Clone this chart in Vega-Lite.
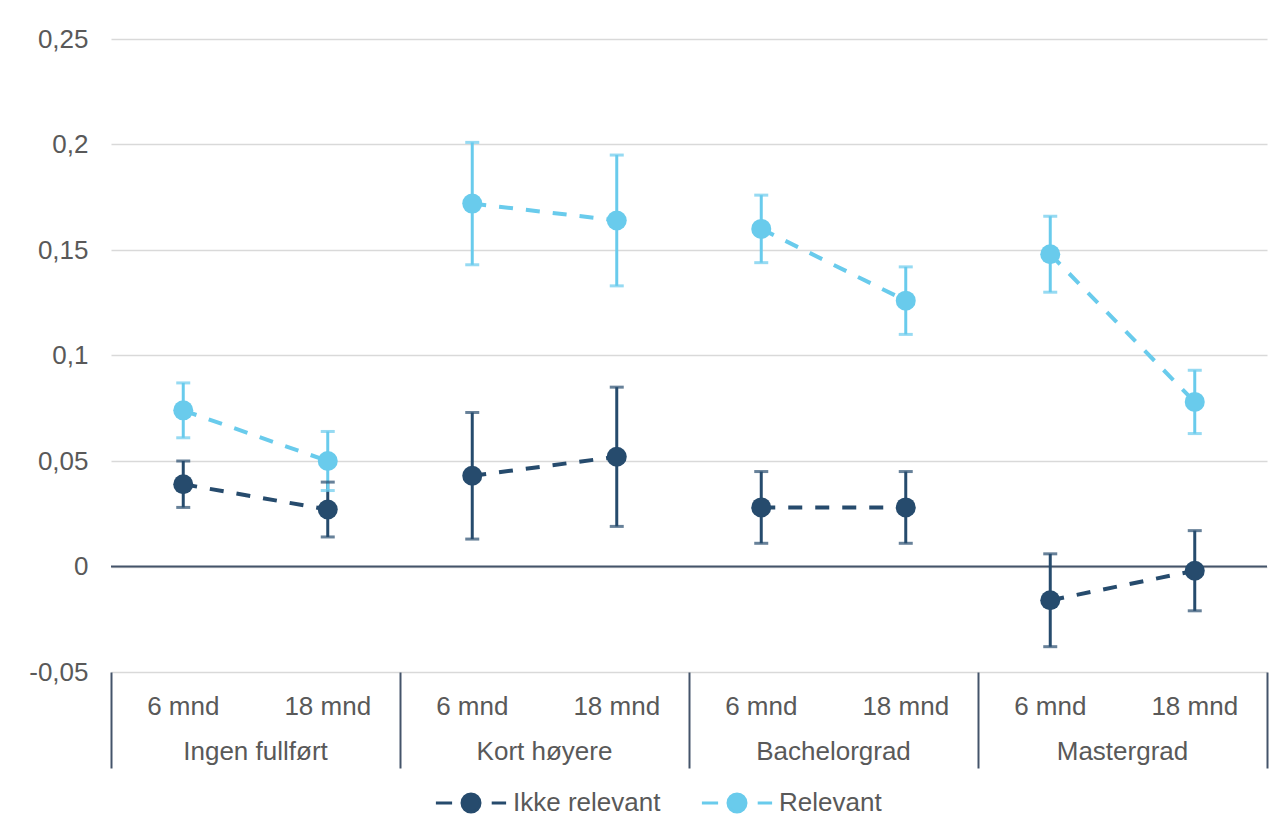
{
  "$schema": "https://vega.github.io/schema/vega-lite/v6.json",
  "width": 1156,
  "height": 633,
  "autosize": {"type": "none"},
  "padding": {"left": 111, "top": 39, "right": 19, "bottom": 164},
  "background": "white",
  "config": {
    "font": "Liberation Sans",
    "view": {"stroke": null},
    "axis": {"labelFont": "Liberation Sans", "labelFontSize": 26, "labelColor": "#595959"},
    "legend": {"labelFont": "Liberation Sans"}
  },
  "datasets": {
    "d": [
      {"series": "Ikke relevant", "group": "Ingen fullført", "time": "6 mnd", "key": "Ingen fullført|6 mnd", "value": 0.039, "lo": 0.028, "hi": 0.050},
      {"series": "Ikke relevant", "group": "Ingen fullført", "time": "18 mnd", "key": "Ingen fullført|18 mnd", "value": 0.027, "lo": 0.014, "hi": 0.040},
      {"series": "Ikke relevant", "group": "Kort høyere", "time": "6 mnd", "key": "Kort høyere|6 mnd", "value": 0.043, "lo": 0.013, "hi": 0.073},
      {"series": "Ikke relevant", "group": "Kort høyere", "time": "18 mnd", "key": "Kort høyere|18 mnd", "value": 0.052, "lo": 0.019, "hi": 0.085},
      {"series": "Ikke relevant", "group": "Bachelorgrad", "time": "6 mnd", "key": "Bachelorgrad|6 mnd", "value": 0.028, "lo": 0.011, "hi": 0.045},
      {"series": "Ikke relevant", "group": "Bachelorgrad", "time": "18 mnd", "key": "Bachelorgrad|18 mnd", "value": 0.028, "lo": 0.011, "hi": 0.045},
      {"series": "Ikke relevant", "group": "Mastergrad", "time": "6 mnd", "key": "Mastergrad|6 mnd", "value": -0.016, "lo": -0.038, "hi": 0.006},
      {"series": "Ikke relevant", "group": "Mastergrad", "time": "18 mnd", "key": "Mastergrad|18 mnd", "value": -0.002, "lo": -0.021, "hi": 0.017},
      {"series": "Relevant", "group": "Ingen fullført", "time": "6 mnd", "key": "Ingen fullført|6 mnd", "value": 0.074, "lo": 0.061, "hi": 0.087},
      {"series": "Relevant", "group": "Ingen fullført", "time": "18 mnd", "key": "Ingen fullført|18 mnd", "value": 0.050, "lo": 0.036, "hi": 0.064},
      {"series": "Relevant", "group": "Kort høyere", "time": "6 mnd", "key": "Kort høyere|6 mnd", "value": 0.172, "lo": 0.143, "hi": 0.201},
      {"series": "Relevant", "group": "Kort høyere", "time": "18 mnd", "key": "Kort høyere|18 mnd", "value": 0.164, "lo": 0.133, "hi": 0.195},
      {"series": "Relevant", "group": "Bachelorgrad", "time": "6 mnd", "key": "Bachelorgrad|6 mnd", "value": 0.160, "lo": 0.144, "hi": 0.176},
      {"series": "Relevant", "group": "Bachelorgrad", "time": "18 mnd", "key": "Bachelorgrad|18 mnd", "value": 0.126, "lo": 0.110, "hi": 0.142},
      {"series": "Relevant", "group": "Mastergrad", "time": "6 mnd", "key": "Mastergrad|6 mnd", "value": 0.148, "lo": 0.130, "hi": 0.166},
      {"series": "Relevant", "group": "Mastergrad", "time": "18 mnd", "key": "Mastergrad|18 mnd", "value": 0.078, "lo": 0.063, "hi": 0.093}
    ]
  },
  "data": {"name": "d"},
  "layer": [
    {
      "data": {"values": [{"v": 0}]},
      "mark": {"type": "rule", "color": "#44546a", "strokeWidth": 2},
      "encoding": {
        "y": {
          "field": "v", "type": "quantitative",
          "scale": {"domain": [-0.05, 0.25], "nice": false, "zero": false},
          "axis": {
            "title": null,
            "values": [-0.05, 0, 0.05, 0.1, 0.15, 0.2, 0.25],
            "format": ".2~f",
            "labelExpr": "replace(replace(datum.label, '.', ','), '−', '-')",
            "grid": true, "gridColor": "#d9d9d9", "gridWidth": 1.5,
            "domain": false, "ticks": false, "labelPadding": 23
          }
        }
      }
    },
    {
      "mark": {"type": "rule", "strokeWidth": 3},
      "encoding": {
        "x": {
          "field": "key", "type": "nominal", "sort": null,
          "scale": {"type": "band", "paddingInner": 0, "paddingOuter": 0, "domain": ["Ingen fullført|6 mnd", "Ingen fullført|18 mnd", "Kort høyere|6 mnd", "Kort høyere|18 mnd", "Bachelorgrad|6 mnd", "Bachelorgrad|18 mnd", "Mastergrad|6 mnd", "Mastergrad|18 mnd"]},
          "axis": {
            "orient": "bottom", "title": null,
            "values": ["Ingen fullført|6 mnd", "Kort høyere|6 mnd", "Bachelorgrad|6 mnd", "Mastergrad|6 mnd"],
            "bandPosition": 0,
            "tickSize": 96, "tickColor": "#44546a", "tickWidth": 2,
            "labels": false, "domain": false, "grid": false
          }
        },
        "y": {"field": "lo", "type": "quantitative"},
        "y2": {"field": "hi"},
        "color": {"field": "series", "type": "nominal", "scale": {"domain": ["Ikke relevant", "Relevant"], "range": ["#264b6d", "#69cbec"]}}
      }
    },
    {
      "mark": {"type": "tick", "orient": "horizontal", "size": 14, "thickness": 3},
      "encoding": {
        "x": {
          "field": "key", "type": "nominal", "sort": null,
          "scale": {"type": "band", "paddingInner": 0, "paddingOuter": 0},
          "axis": {
            "orient": "bottom", "title": null,
            "values": ["Ingen fullført|18 mnd", "Kort høyere|18 mnd", "Bachelorgrad|18 mnd", "Mastergrad|18 mnd"],
            "labelExpr": "split(datum.value, '|')[0]",
            "labelAngle": 0, "labelAlign": "center", "labelOffset": -72.25,
            "labelBaseline": "alphabetic", "labelPadding": 87,
            "ticks": false, "domain": false, "grid": false
          }
        },
        "y": {"field": "lo", "type": "quantitative"},
        "color": {"field": "series", "type": "nominal"}
      }
    },
    {
      "mark": {"type": "tick", "orient": "horizontal", "size": 14, "thickness": 3},
      "encoding": {
        "x": {
          "field": "key", "type": "nominal", "sort": null,
          "scale": {"type": "band", "paddingInner": 0, "paddingOuter": 0},
          "axis": {
            "orient": "bottom", "title": null,
            "values": ["Mastergrad|18 mnd"],
            "bandPosition": 1,
            "tickSize": 96, "tickColor": "#44546a", "tickWidth": 2,
            "labels": false, "domain": false, "grid": false
          }
        },
        "y": {"field": "hi", "type": "quantitative"},
        "color": {"field": "series", "type": "nominal"}
      }
    },
    {
      "mark": {"type": "line", "strokeWidth": 4, "strokeDash": [14, 13]},
      "encoding": {
        "x": {"field": "key", "type": "nominal", "sort": null, "scale": {"type": "band", "paddingInner": 0, "paddingOuter": 0}, "axis": null},
        "y": {"field": "value", "type": "quantitative"},
        "color": {"field": "series", "type": "nominal"},
        "detail": {"field": "group", "type": "nominal"}
      }
    },
    {
      "mark": {"type": "point", "filled": true, "opacity": 1, "size": 400},
      "encoding": {
        "x": {
          "field": "key", "type": "nominal", "sort": null,
          "scale": {"type": "band", "paddingInner": 0, "paddingOuter": 0},
          "axis": {
            "orient": "bottom", "title": null,
            "labelExpr": "split(datum.value, '|')[1]",
            "labelAngle": 0, "labelBaseline": "alphabetic", "labelPadding": 42,
            "ticks": false, "domain": false, "grid": false
          }
        },
        "y": {"field": "value", "type": "quantitative"},
        "color": {
          "field": "series", "type": "nominal",
          "legend": {
            "title": null, "orient": "none", "direction": "horizontal",
            "legendX": 347, "legendY": 751,
            "symbolType": "M-3.9,0L-2.1,0M2.3,0L3.9,0M1,0A1,1,0,1,1,-1,0A1,1,0,1,1,1,0Z",
            "symbolSize": 324, "symbolStrokeWidth": 3, "symbolOpacity": 1,
            "labelFontSize": 26, "labelColor": "#595959", "labelOffset": 29,
            "columnPadding": 34,
            "encode": {"symbols": {"update": {"fill": {"scale": "color", "field": "value"}, "stroke": {"scale": "color", "field": "value"}, "opacity": {"value": 1}, "fillOpacity": {"value": 1}}}}
          }
        }
      }
    }
  ],
  "resolve": {"axis": {"x": "independent"}}
}
